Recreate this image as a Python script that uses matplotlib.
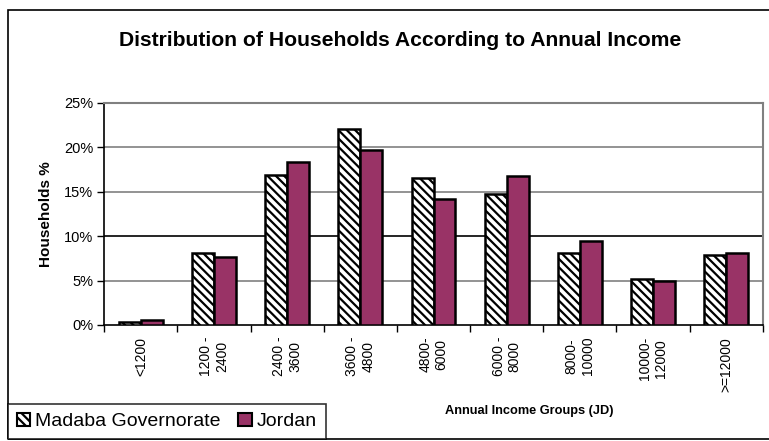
import matplotlib
matplotlib.use("Agg")
import matplotlib.pyplot as plt
import matplotlib.patches as mpatches
import numpy as np

categories = ["<1200", "1200 -\n2400", "2400 -\n3600", "3600 -\n4800", "4800-\n6000",
              "6000 -\n8000", "8000-\n10000", "10000-\n12000", ">=12000"]
madaba = [0.3, 8.1, 16.9, 22.1, 16.5, 14.8, 8.1, 5.2, 7.9]
jordan = [0.6, 7.7, 18.4, 19.7, 14.2, 16.8, 9.5, 5.0, 8.1]
series_names = ["Madaba Governorate", "Jordan"]
yticks = [0, 5, 10, 15, 20, 25]

plt.rcParams['font.family'] = ['Liberation Sans', 'DejaVu Sans']
plt.rcParams['hatch.linewidth'] = 1.6
plt.rcParams['hatch.color'] = 'black'

W, H = 769, 441
fig = plt.figure(figsize=(W / 100, H / 100), dpi=100)
ax = fig.add_axes([104.3 / W, 1 - 325 / H, (762.7 - 104.3) / W, (325 - 103) / H])

purple = '#993366'
x = np.arange(len(categories)) + 0.5
bw = 0.3
ax.bar(x - bw / 2, madaba, bw, facecolor='white', edgecolor='black', hatch='\\\\\\\\',
       linewidth=1.8, zorder=3)
ax.bar(x + bw / 2, jordan, bw, facecolor=purple, edgecolor='black', linewidth=1.8, zorder=3)

ax.set_xlim(0, len(categories))
ax.set_ylim(0, 25)
ax.set_yticks(yticks)
ax.set_yticklabels([f"{v}%" for v in yticks], fontsize=10.5)
for v in yticks[1:]:
    col = '#000000' if v == 10 else '#808080'
    ax.axhline(v, color=col, linewidth=1.2, zorder=1)

ax.set_xticks(np.arange(len(categories) + 1))
ax.set_xticklabels([])
ax.set_xticks(x, minor=True)
ax.set_xticklabels(categories, minor=True, rotation=90, fontsize=10,
                   va='top', ha='center', multialignment='center')
ax.tick_params(axis='x', which='minor', length=0, pad=8.5)
ax.tick_params(axis='x', which='major', length=5, width=1, direction='out')
ax.tick_params(axis='y', length=5, width=1, direction='out', pad=3)

for s in ['top', 'right']:
    ax.spines[s].set_color('#808080')
    ax.spines[s].set_linewidth(1.5)
for s in ['left', 'bottom']:
    ax.spines[s].set_color('black')
    ax.spines[s].set_linewidth(1.2)

ax.set_ylabel("Households %", fontsize=11, fontweight='bold', labelpad=8)

fig.text(400 / W, 1 - 40 / H, "Distribution of Households According to Annual Income",
         ha='center', va='center', fontsize=15.2, fontweight='bold')
fig.text(529 / W, 1 - 411 / H, "Annual Income Groups (JD)", ha='center', va='center',
         fontsize=9.2, fontweight='bold')

# figure border
fig.patches.append(mpatches.Rectangle((8 / W, 1 - 439 / H), 1.2, (439 - 10) / H,
                                      transform=fig.transFigure, fill=False,
                                      edgecolor='black', linewidth=1.2, zorder=0))

handles = [mpatches.Patch(facecolor='white', edgecolor='black', hatch='\\\\\\\\', linewidth=1.5),
           mpatches.Patch(facecolor=purple, edgecolor='black', linewidth=1.5)]
leg = fig.legend(handles, series_names, loc='lower left',
                 bbox_to_anchor=(8 / W, 1 - 439 / H), ncol=2, fontsize=14,
                 frameon=True, fancybox=False, handlelength=0.7, handleheight=0.7,
                 handletextpad=0.25, columnspacing=0.9, borderpad=0.45, borderaxespad=0)
leg.get_frame().set_edgecolor('black')
leg.get_frame().set_linewidth(1.2)

fig.savefig("out.png", dpi=100)
